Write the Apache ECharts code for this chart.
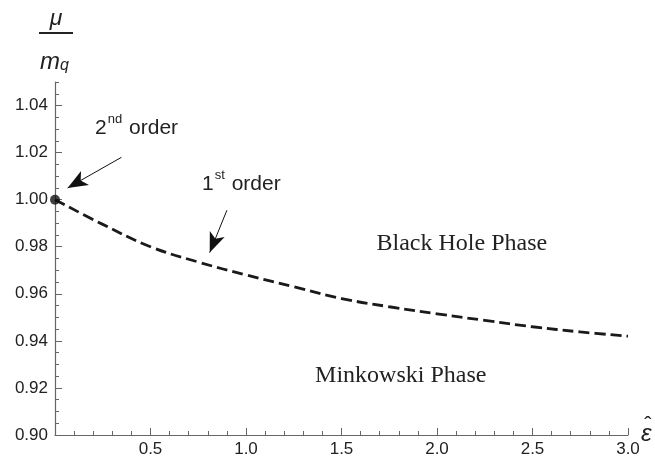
<!DOCTYPE html>
<html><head><meta charset="utf-8">
<script src="https://cdn.jsdelivr.net/npm/echarts@6/dist/echarts.min.js"></script>
<style>html,body{margin:0;padding:0;background:#fff}#c{width:655px;height:464px}</style>
</head><body><div id="c"></div>
<script>
// Data
const epsilon = [0, 0.25, 0.5, 0.75, 1.0, 1.25, 1.5, 1.75, 2.0, 2.25, 2.5, 2.75, 3.0];
const muOverMq = [1.000, 0.9895, 0.9800, 0.9735, 0.9680, 0.9630, 0.9580, 0.9545, 0.9515, 0.9487, 0.9460, 0.9438, 0.9420];
const transitionPoint = [0, 1.0];
const xMajorTicks = [0.5, 1.0, 1.5, 2.0, 2.5, 3.0];
const yMajorTicks = [0.90, 0.92, 0.94, 0.96, 0.98, 1.00, 1.02, 1.04];
// annotations in data coordinates
const labels2nd = {text: ['2', 'nd', ' order'], at: [0.21, 1.0315]};
const arrow2nd = [[0.348, 1.0180], [0.066, 1.0050]];
const labels1st = {text: ['1', 'st', ' order'], at: [0.77, 1.0075]};
const arrow1st = [[0.90, 0.9955], [0.81, 0.9775]];
const phaseLabels = [
  {text: 'Black Hole Phase', at: [2.13, 0.9812]},
  {text: 'Minkowski Phase', at: [1.81, 0.9250]}
];

const chart = echarts.init(document.getElementById('c'), null, {renderer: 'canvas'});
const axisColor = '#666';
const font = 'Liberation Sans, Helvetica, Arial, sans-serif';
const serif = 'Liberation Serif, Times New Roman, serif';

const pairs = epsilon.map((e, i) => [e, muOverMq[i]]);

chart.setOption({
  animation: false,
  grid: {left: 55, right: 27, top: 82, bottom: 29, containLabel: false},
  xAxis: [
    {type: 'value', min: 0, max: 3, interval: 0.5, position: 'bottom',
     axisLine: {lineStyle: {color: axisColor, width: 1.2}},
     axisTick: {inside: true, length: 7, lineStyle: {color: axisColor}},
     axisLabel: {color: '#222', fontFamily: font, fontSize: 17, margin: 6,
       formatter: v => xMajorTicks.some(t => Math.abs(t - v) < 1e-9) ? v.toFixed(1) : ''},
     splitLine: {show: false}},
    {type: 'value', min: 0, max: 3, interval: 0.1, position: 'bottom',
     axisLine: {show: false}, axisLabel: {show: false}, splitLine: {show: false},
     axisTick: {inside: true, length: 4, lineStyle: {color: axisColor}}}
  ],
  yAxis: [
    {type: 'value', min: 0.9, max: 1.05, interval: 0.02, position: 'left',
     axisLine: {show: true, lineStyle: {color: axisColor, width: 1.2}},
     axisTick: {show: true, inside: true, length: 7, lineStyle: {color: axisColor}},
     axisLabel: {color: '#222', fontFamily: font, fontSize: 17, margin: 7, showMaxLabel: false,
       formatter: v => yMajorTicks.some(t => Math.abs(t - v) < 1e-9) ? v.toFixed(2) : ''},
     splitLine: {show: false}},
    {type: 'value', min: 0.9, max: 1.05, interval: 0.005, position: 'left',
     axisLine: {show: false}, axisLabel: {show: false}, splitLine: {show: false},
     axisTick: {show: true, inside: true, length: 4, lineStyle: {color: axisColor}}}
  ],
  series: [
    {type: 'line', data: pairs, smooth: 0.4, showSymbol: false, xAxisIndex: 0, yAxisIndex: 0,
     lineStyle: {color: '#1a1a1a', width: 2.8, type: [11, 5]}, z: 3},
    {type: 'scatter', data: [transitionPoint], symbolSize: 10, itemStyle: {color: '#111'}, z: 4},
    {type: 'line', data: [], markLine: {
      silent: true, symbol: ['none', 'arrow'], symbolSize: [12, 20],
      label: {show: false},
      lineStyle: {color: '#111', width: 1, type: 'solid'},
      data: [
        [{coord: arrow2nd[0]}, {coord: arrow2nd[1]}],
        [{coord: arrow1st[0]}, {coord: arrow1st[1]}]
      ]}}
  ]
});

function place() {
  const g = [];
  const sup = (lab) => {
    const p = chart.convertToPixel({xAxisIndex: 0, yAxisIndex: 0}, lab.at);
    return {type: 'text', x: p[0], y: p[1], style: {
      text: '{b|' + lab.text[0] + '}{s|' + lab.text[1] + '}{b|' + lab.text[2] + '}',
      verticalAlign: 'middle', align: 'left',
      rich: {
        b: {fontFamily: font, fontSize: 21, fill: '#222', lineHeight: 26, verticalAlign: 'bottom'},
        s: {fontFamily: font, fontSize: 13, fill: '#222', lineHeight: 26, verticalAlign: 'top', padding: [0, 1, 12, 1]}
      }}};
  };
  g.push(sup(labels2nd));
  g.push(sup(labels1st));
  phaseLabels.forEach(l => {
    const p = chart.convertToPixel({xAxisIndex: 0, yAxisIndex: 0}, l.at);
    g.push({type: 'text', x: p[0], y: p[1], style: {text: l.text, fontFamily: serif, fontSize: 24, fill: '#222', align: 'center', verticalAlign: 'middle'}});
  });
  // x-axis name: epsilon hat
  const e = chart.convertToPixel({xAxisIndex: 0, yAxisIndex: 0}, [3, 0.9]);
  g.push({type: 'text', x: e[0] + 13, y: e[1] - 1, style: {text: 'ε', fontFamily: font, fontStyle: 'italic', fontSize: 24, fill: '#222', align: 'left', verticalAlign: 'middle'}});
  g.push({type: 'text', x: e[0] + 20, y: e[1] - 9, style: {text: 'ˆ', fontFamily: font, fontSize: 22, fill: '#222', align: 'center', verticalAlign: 'middle'}});
  // y-axis title: mu / m_q
  g.push({type: 'text', x: 56, y: 19, style: {text: 'μ', fontFamily: font, fontStyle: 'italic', fontSize: 23, fill: '#222', align: 'center', verticalAlign: 'middle'}});
  g.push({type: 'line', shape: {x1: 39, y1: 33, x2: 73, y2: 33}, style: {stroke: '#222', lineWidth: 1.8}});
  g.push({type: 'text', x: 40, y: 60, style: {
    text: '{m|m}{q|q}', verticalAlign: 'middle', align: 'left', rich: {
      m: {fontFamily: font, fontStyle: 'italic', fontSize: 24, fill: '#222', lineHeight: 28, verticalAlign: 'bottom'},
      q: {fontFamily: font, fontStyle: 'italic', fontSize: 16, fill: '#222', lineHeight: 28, verticalAlign: 'bottom', padding: [8, 0, 0, 0]}
    }}});
  chart.setOption({graphic: g});
}
place();
</script>
</body></html>
